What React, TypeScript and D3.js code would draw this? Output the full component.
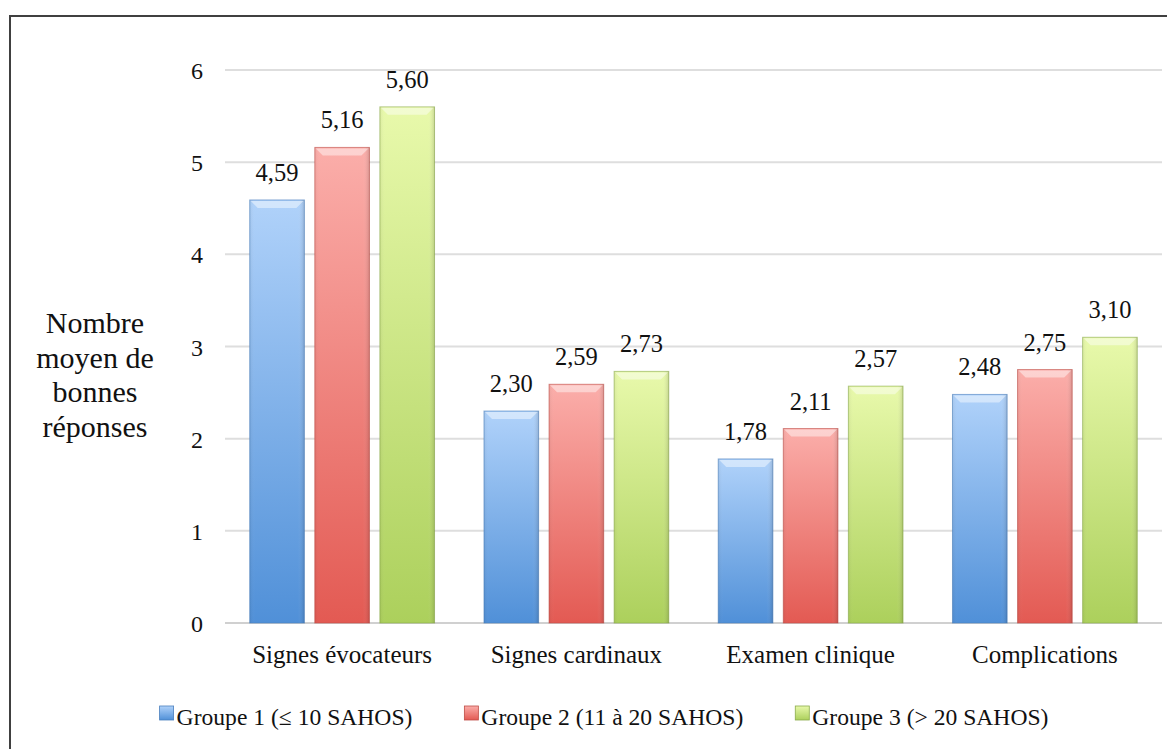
import * as d3 from "d3";
import React, { useEffect, useRef } from "react";

const categories = ["Signes évocateurs", "Signes cardinaux", "Examen clinique", "Complications"];
const groups = ["Groupe 1 (≤ 10 SAHOS)", "Groupe 2 (11 à 20 SAHOS)", "Groupe 3 (> 20 SAHOS)"];
const groupe1 = [4.59, 2.3, 1.78, 2.48];
const groupe2 = [5.16, 2.59, 2.11, 2.75];
const groupe3 = [5.6, 2.73, 2.57, 3.1];
const yTicks = [0, 1, 2, 3, 4, 5, 6];
const titleLines = ["Nombre", "moyen de", "bonnes", "réponses"];

const series = [groupe1, groupe2, groupe3];
const palette = [
  { top: "#b0d2fa", bottom: "#5090d8", stroke: "#4a7fbd" },
  { top: "#fbaeaa", bottom: "#e35a53", stroke: "#bf4d46" },
  { top: "#e8f9ab", bottom: "#acd05c", stroke: "#8aab4a" },
];

const FONT = "'Liberation Serif', 'Times New Roman', serif";

const App: React.FC = () => {
  const svgRef = useRef<SVGSVGElement | null>(null);

  useEffect(() => {
    const svg = d3.select(svgRef.current);
    svg.selectAll("*").remove();
    const width = 1167;
    const height = 749;

    const left = 225;
    const right = 1162;
    const y = d3.scaleLinear().domain([0, 6]).range([623, 70]);
    const x0 = d3.scaleBand<string>().domain(categories).range([left, right]);
    const x1 = d3
      .scaleBand<number>()
      .domain([0, 1, 2])
      .range([0, x0.bandwidth()])
      .paddingInner(0.16)
      .paddingOuter(0.38);

    // degrades
    const defs = svg.append("defs");
    palette.forEach((p, i) => {
      const g = defs
        .append("linearGradient")
        .attr("id", "grad" + i)
        .attr("x1", 0)
        .attr("y1", 0)
        .attr("x2", 0)
        .attr("y2", 1);
      g.append("stop").attr("offset", "0%").attr("stop-color", p.top);
      g.append("stop").attr("offset", "100%").attr("stop-color", p.bottom);
      const h = defs
        .append("linearGradient")
        .attr("id", "side" + i)
        .attr("x1", 0)
        .attr("y1", 0)
        .attr("x2", 1)
        .attr("y2", 0);
      h.append("stop").attr("offset", "0%").attr("stop-color", "#000").attr("stop-opacity", 0.06);
      h.append("stop").attr("offset", "10%").attr("stop-color", "#fff").attr("stop-opacity", 0.0);
      h.append("stop").attr("offset", "88%").attr("stop-color", "#fff").attr("stop-opacity", 0.0);
      h.append("stop").attr("offset", "100%").attr("stop-color", "#000").attr("stop-opacity", 0.14);
    });

    // cadre
    svg
      .append("path")
      .attr("d", `M10,${height} L10,16 L${width},16`)
      .attr("fill", "none")
      .attr("stroke", "#404040")
      .attr("stroke-width", 2);

    // grille
    svg
      .append("g")
      .selectAll("line")
      .data(yTicks)
      .join("line")
      .attr("x1", left)
      .attr("x2", right)
      .attr("y1", (d) => y(d))
      .attr("y2", (d) => y(d))
      .attr("stroke", (d) => (d === 0 ? "#d0d0d0" : "#dedede"))
      .attr("stroke-width", 2);

    // axe y
    svg
      .append("g")
      .selectAll("text")
      .data(yTicks)
      .join("text")
      .attr("x", 197)
      .attr("y", (d) => y(d) + 9)
      .attr("text-anchor", "middle")
      .attr("font-family", FONT)
      .attr("font-size", 24)
      .attr("fill", "#111")
      .text((d) => d);

    svg
      .append("g")
      .selectAll("text")
      .data(titleLines)
      .join("text")
      .attr("x", 95)
      .attr("y", (d, i) => 333 + i * 34.7)
      .attr("text-anchor", "middle")
      .attr("font-family", FONT)
      .attr("font-size", 30)
      .attr("fill", "#111")
      .text((d) => d);

    // barres
    const groupsG = svg
      .append("g")
      .selectAll("g")
      .data(categories)
      .join("g")
      .attr("transform", (d) => `translate(${x0(d)},0)`);

    groupsG.each(function (cat, ci) {
      const g = d3.select(this);
      series.forEach((s, si) => {
        const v = s[ci];
        const bx = x1(si)!;
        const bw = x1.bandwidth();
        const top = y(v);
        const h = y(0) - top;
        g.append("rect")
          .attr("x", bx)
          .attr("y", top)
          .attr("width", bw)
          .attr("height", h)
          .attr("fill", `url(#grad${si})`)
          .attr("stroke", palette[si].stroke)
          .attr("stroke-opacity", 0.6)
          .attr("stroke-width", 1);
        g.append("rect")
          .attr("x", bx)
          .attr("y", top)
          .attr("width", bw)
          .attr("height", h)
          .attr("fill", `url(#side${si})`);
        // biseau du haut
        g.append("path")
          .attr(
            "d",
            `M${bx + 1},${top + 1} L${bx + bw - 1},${top + 1} L${bx + bw - 8},${top + 8} L${bx + 8},${top + 8} Z`
          )
          .attr("fill", "#fff")
          .attr("fill-opacity", 0.45);
        g.append("text")
          .attr("x", bx + bw / 2)
          .attr("y", top - 19)
          .attr("text-anchor", "middle")
          .attr("font-family", FONT)
          .attr("font-size", 24.5)
          .attr("fill", "#111")
          .text(v.toFixed(2).replace(".", ","));
      });
    });

    // etiquettes categories
    svg
      .append("g")
      .selectAll("text")
      .data(categories)
      .join("text")
      .attr("x", (d) => x0(d)! + x0.bandwidth() / 2)
      .attr("y", 663)
      .attr("text-anchor", "middle")
      .attr("font-family", FONT)
      .attr("font-size", 25)
      .attr("fill", "#111")
      .text((d) => d);

    // legende
    const leg = svg.append("g");
    const items = leg
      .selectAll("g")
      .data(groups)
      .join("g");
    items
      .append("rect")
      .attr("y", 706)
      .attr("width", 14)
      .attr("height", 14)
      .attr("fill", (d, i) => `url(#grad${i})`)
      .attr("stroke", (d, i) => palette[i].stroke)
      .attr("stroke-width", 0.8);
    const texts = items
      .append("text")
      .attr("x", 17)
      .attr("y", 725)
      .attr("font-family", FONT)
      .attr("font-size", 23.6)
      .attr("fill", "#111")
      .text((d) => d);
    const widths = texts.nodes().map((n) => (n as SVGTextElement).getComputedTextLength());
    const gap = 52;
    const total = d3.sum(widths.map((w) => 17 + w)) + gap * (widths.length - 1);
    let cursor = 604 - total / 2;
    items.attr("transform", (d, i) => {
      const tx = cursor;
      cursor += 17 + widths[i] + gap;
      return `translate(${tx},0)`;
    });

    svg.attr("width", width).attr("height", height);
  }, []);

  return (
    <svg
      ref={svgRef}
      style={{ position: "absolute", left: 0, top: 0, background: "#fff" }}
    />
  );
};

export default App;
